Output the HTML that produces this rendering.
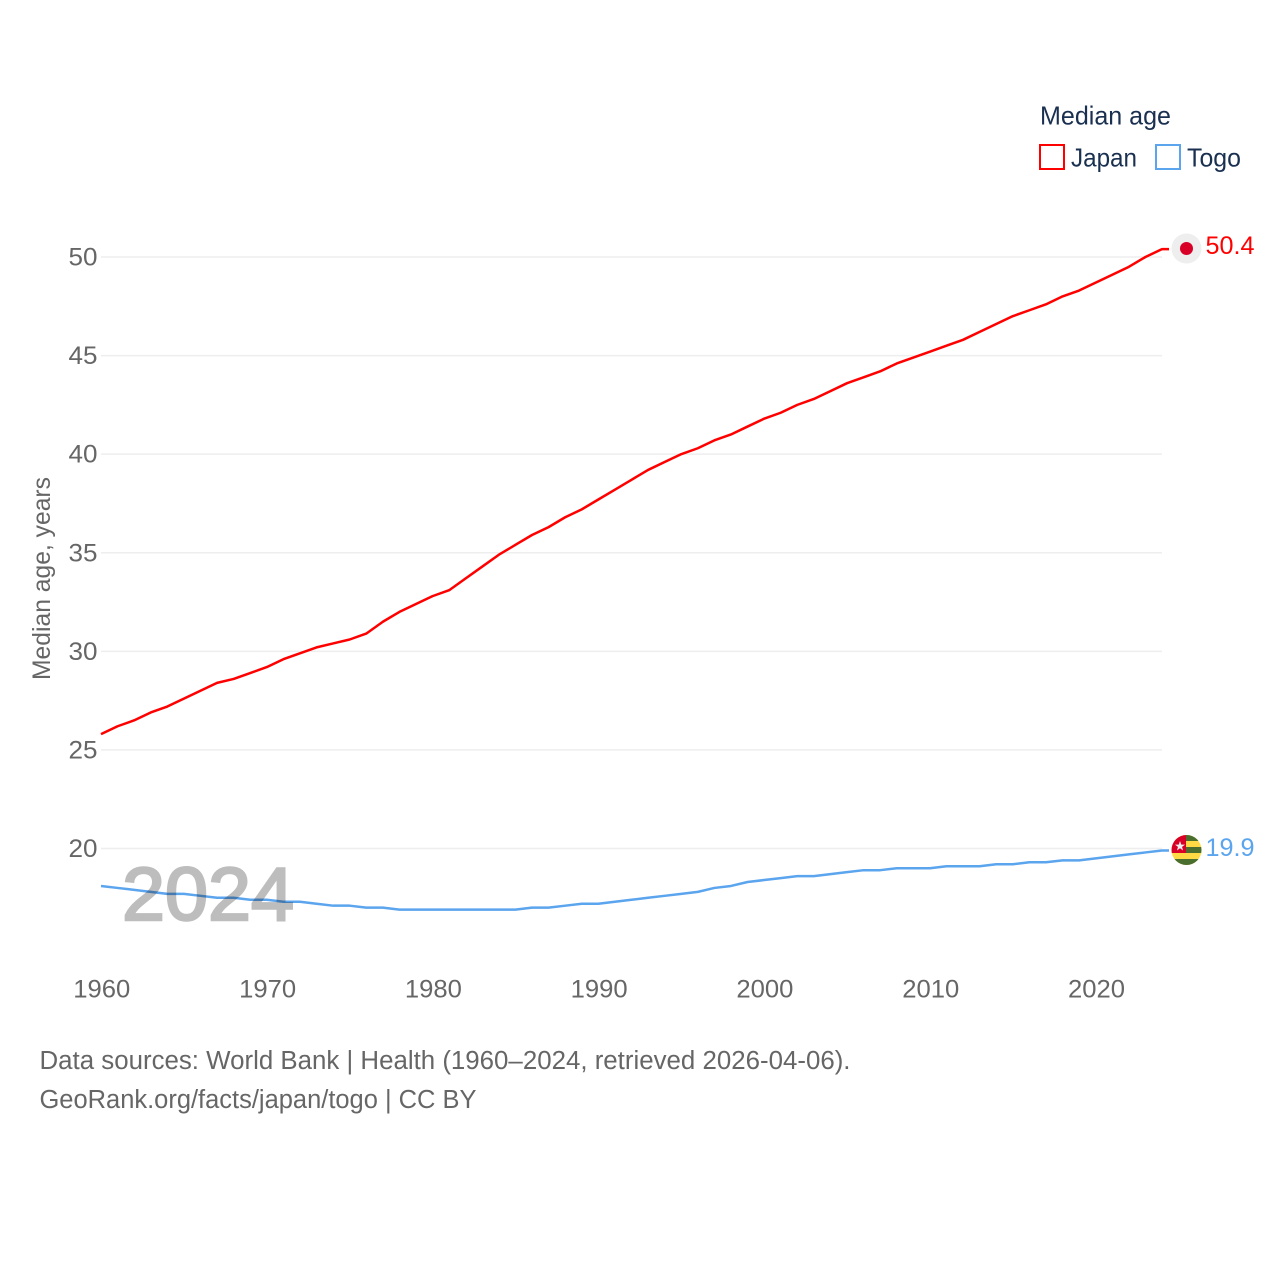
<!DOCTYPE html>
<html lang="en">
<head>
<meta charset="utf-8">
<title>Median age: Japan and Togo</title>
<style>
html,body{margin:0;padding:0;background:#fff;width:1280px;height:1280px;overflow:hidden}
svg{display:block}
text{font-family:"Liberation Sans",sans-serif}
</style>
</head>
<body>
<svg id="chart" width="1280" height="1280" viewBox="0 0 1280 1280" xmlns="http://www.w3.org/2000/svg">
  <g id="grid"></g>
  <g id="yticks"></g>
  <g id="xticks"></g>
  <text transform="translate(50,680) rotate(-90)" font-size="25" fill="#666" textLength="203" lengthAdjust="spacingAndGlyphs">Median age, years</text>
  <g id="series"></g>
  <text id="year-watermark" x="122" y="920" font-size="75" fill="#bdbdbd" stroke="#bdbdbd" stroke-width="2.4" textLength="172" lengthAdjust="spacingAndGlyphs" style="mix-blend-mode:multiply">2024</text>

  <g>
    <circle cx="1186.5" cy="248.5" r="15" fill="#eeeeee"/>
    <circle cx="1186.5" cy="248.5" r="6.5" fill="#d80027"/>
  </g>
  <g>
    <clipPath id="togo-clip"><circle cx="1186.5" cy="850" r="15"/></clipPath>
    <g clip-path="url(#togo-clip)">
      <rect x="1171" y="834" width="31" height="32" fill="#ffda44"/>
      <rect x="1186" y="834" width="16" height="7" fill="#496e2d"/>
      <rect x="1186" y="847" width="16" height="6" fill="#496e2d"/>
      <rect x="1171" y="859" width="31" height="7" fill="#496e2d"/>
      <rect x="1171" y="834" width="15" height="19" fill="#d80027"/>
      <polygon fill="#f0f0f0" points="1180,841 1181.3,844.6 1185,844.6 1182,846.9 1183.1,850.5 1180,848.3 1176.9,850.5 1178,846.9 1175,844.6 1178.7,844.6"/>
    </g>
  </g>

  <text id="japan-end-label" x="1205.5" y="254" font-size="25" fill="#ff0000" textLength="49" lengthAdjust="spacingAndGlyphs"></text>
  <text id="togo-end-label" x="1205.5" y="856" font-size="25" fill="#5ba4ee" textLength="49" lengthAdjust="spacingAndGlyphs"></text>

  <g>
    <text x="1040" y="124.5" font-size="26" fill="#1a3050" textLength="131" lengthAdjust="spacingAndGlyphs">Median age</text>
    <g>
      <rect x="1040" y="145" width="24" height="24" fill="#fff" stroke="#ff0000" stroke-width="2"/>
      <text x="1071" y="166.5" font-size="26" fill="#1a3050" textLength="66" lengthAdjust="spacingAndGlyphs">Japan</text>
    </g>
    <g>
      <rect x="1156" y="145" width="24" height="24" fill="#fff" stroke="#5ba4ee" stroke-width="2"/>
      <text x="1187" y="166.5" font-size="26" fill="#1a3050" textLength="54" lengthAdjust="spacingAndGlyphs">Togo</text>
    </g>
  </g>

  <g>
    <text x="39.5" y="1069" font-size="25.5" fill="#666" textLength="811" lengthAdjust="spacingAndGlyphs">Data sources: World Bank | Health (1960–2024, retrieved 2026-04-06).</text>
    <text x="39.5" y="1108" font-size="25.5" fill="#666" textLength="437" lengthAdjust="spacingAndGlyphs">GeoRank.org/facts/japan/togo | CC BY</text>
  </g>
</svg>
<script>
const firstYear = 1960;
const xTickYears = [1960, 1970, 1980, 1990, 2000, 2010, 2020];
const yTickValues = [20, 25, 30, 35, 40, 45, 50];
const japanValues = [25.8,26.2,26.5,26.9,27.2,27.6,28.0,28.4,28.6,28.9,29.2,29.6,29.9,30.2,30.4,30.6,30.9,31.5,32.0,32.4,32.8,33.1,33.7,34.3,34.9,35.4,35.9,36.3,36.8,37.2,37.7,38.2,38.7,39.2,39.6,40.0,40.3,40.7,41.0,41.4,41.8,42.1,42.5,42.8,43.2,43.6,43.9,44.2,44.6,44.9,45.2,45.5,45.8,46.2,46.6,47.0,47.3,47.6,48.0,48.3,48.7,49.1,49.5,50.0,50.4];
const togoValues = [18.1,18.0,17.9,17.8,17.7,17.7,17.6,17.5,17.5,17.4,17.4,17.3,17.3,17.2,17.1,17.1,17.0,17.0,16.9,16.9,16.9,16.9,16.9,16.9,16.9,16.9,17.0,17.0,17.1,17.2,17.2,17.3,17.4,17.5,17.6,17.7,17.8,18.0,18.1,18.3,18.4,18.5,18.6,18.6,18.7,18.8,18.9,18.9,19.0,19.0,19.0,19.1,19.1,19.1,19.2,19.2,19.3,19.3,19.4,19.4,19.5,19.6,19.7,19.8,19.9];
const japanEndLabel = "50.4";
const togoEndLabel = "19.9";

const NS = "http://www.w3.org/2000/svg";
const xScale = year => 101 + (year - 1960) * (1162 - 101) / 64;
const yScale = value => 848.5 - (value - 20) * (848.5 - 257) / 30;

const gridGroup = document.getElementById("grid");
const yTickGroup = document.getElementById("yticks");
const xTickGroup = document.getElementById("xticks");
const seriesGroup = document.getElementById("series");

yTickValues.forEach(function (value) {
  const line = document.createElementNS(NS, "line");
  
  
  line.setAttribute("x1", 101);
  line.setAttribute("x2", 1162);
  line.setAttribute("y1", yScale(value));
  line.setAttribute("y2", yScale(value));
  line.setAttribute("stroke", "#eeeeee");
  line.setAttribute("stroke-width", 1.5);
  gridGroup.appendChild(line);

  const label = document.createElementNS(NS, "text");
  
  
  label.setAttribute("x", 97.5);
  label.setAttribute("y", yScale(value) + 8.5);
  label.setAttribute("text-anchor", "end");
  label.setAttribute("font-size", 25);
  label.setAttribute("fill", "#666");
  label.setAttribute("textLength", 29);
  label.setAttribute("lengthAdjust", "spacingAndGlyphs");
  label.textContent = value;
  yTickGroup.appendChild(label);
});

xTickYears.forEach(function (year) {
  const label = document.createElementNS(NS, "text");
  
  
  label.setAttribute("x", xScale(year) - 27.7);
  label.setAttribute("y", 997.5);
  label.setAttribute("font-size", 25);
  label.setAttribute("fill", "#666");
  label.setAttribute("textLength", 57);
  label.setAttribute("lengthAdjust", "spacingAndGlyphs");
  label.textContent = year;
  xTickGroup.appendChild(label);
});

function drawSeries(values, color, seriesName) {
  const pts = values.map(function (v, i) {
    return xScale(firstYear + i).toFixed(2) + "," + yScale(v).toFixed(2);
  });
  const last = values[values.length - 1];
  pts.push("1169," + yScale(last).toFixed(2));
  const line = document.createElementNS(NS, "polyline");
  
  
  line.setAttribute("points", pts.join(" "));
  line.setAttribute("fill", "none");
  line.setAttribute("stroke", color);
  line.setAttribute("stroke-width", 2.5);
  line.setAttribute("stroke-linejoin", "round");
  seriesGroup.appendChild(line);
}
drawSeries(togoValues, "#5ba4ee", "togo-line");
drawSeries(japanValues, "#ff0000", "japan-line");

document.getElementById("japan-end-label").textContent = japanEndLabel;
document.getElementById("togo-end-label").textContent = togoEndLabel;
</script>
</body>
</html>
